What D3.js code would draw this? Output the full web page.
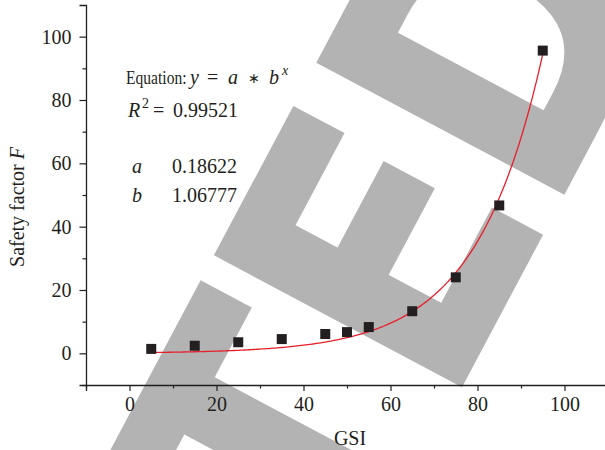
<!DOCTYPE html>
<html>
<head>
<meta charset="utf-8">
<script src="https://cdn.jsdelivr.net/npm/d3@7/dist/d3.min.js"></script>
<style>
  html, body { margin: 0; padding: 0; background: #ffffff; }
  svg { display: block; }
</style>
</head>
<body>
<div id="chart"></div>
<script>
// ---- data ----
const gsi = [5, 15, 25, 35, 45, 50, 55, 65, 75, 85, 95];
const safetyFactor = [1.4, 2.4, 3.5, 4.5, 6.1, 6.7, 8.3, 13.3, 24.0, 46.7, 95.6];
const fitParams = [0.18622, 1.06777];       // a, b of y = a * b^x
const fitRange = [5, 95];
const xTicks = [0, 20, 40, 60, 80, 100];
const yTicks = [0, 20, 40, 60, 80, 100];
const xMinorTicks = [-10, 10, 30, 50, 70, 90, 110];
const yMinorTicks = [-10, 10, 30, 50, 70, 90];
const xDomain = [-10, 110];
const yDomain = [-10, 110];
const annotationLines = ["0.99521", "0.18622", "1.06777"];

const W = 605, H = 450;
const m = { left: 86, right: -3, top: 5, bottom: 65 };

const svg = d3.select("#chart").append("svg").attr("width", W).attr("height", H);
svg.append("rect").attr("width", W).attr("height", H).attr("fill", "#fff");

// ---- watermark ----
const wm = svg.append("g").attr("transform", "translate(462,383) rotate(-62)");
const wmInner = wm.append("g").attr("transform", "scale(0.86,1)");
const wt = wmInner.append("text").text("RETRACTED")
  .attr("font-family", "DejaVu Sans").attr("font-weight", "bold").attr("font-size", 380)
  .attr("fill", "#b3b3b3").attr("stroke", "#b3b3b3").attr("stroke-width", 4)
  .attr("stroke-linejoin", "miter")
  .attr("dx", "0 0 0 0 0 0 0 0 -6");
const ePen = wt.node().getStartPositionOfChar(7).x;
wt.attr("x", -(ePen + 0.098 * 380));

const x = d3.scaleLinear().domain(xDomain).range([m.left, W - m.right]);
const y = d3.scaleLinear().domain(yDomain).range([H - m.bottom, m.top]);

const axisColor = "#231f20";
const serif = "'Liberation Serif', 'Times New Roman', serif";
const fs = 20;

// x axis
const xAxisG = svg.append("g").attr("transform", `translate(0,${y(yDomain[0])})`);
xAxisG.call(d3.axisBottom(x).tickValues(xTicks).tickSize(6).tickPadding(6).tickFormat(d3.format("d")));
xAxisG.append("g").call(d3.axisBottom(x).tickValues(xMinorTicks).tickSize(3.5).tickFormat(""))
  .select(".domain").remove();
// y axis
const yAxisG = svg.append("g").attr("transform", `translate(${x(xDomain[0])},0)`);
yAxisG.call(d3.axisLeft(y).tickValues(yTicks).tickSize(6.5).tickPadding(8).tickFormat(d3.format("d")));
yAxisG.append("g").call(d3.axisLeft(y).tickValues(yMinorTicks).tickSize(3.5).tickFormat(""))
  .select(".domain").remove();

svg.selectAll(".domain").attr("stroke", axisColor).attr("stroke-width", 1.3);
svg.selectAll(".tick line").attr("stroke", axisColor).attr("stroke-width", 1.2);
svg.selectAll(".tick text").attr("fill", "#231f20").attr("font-family", serif).attr("font-size", fs);

// axis titles
svg.append("text").attr("x", 350).attr("y", 445).attr("text-anchor", "middle")
  .attr("font-family", serif).attr("font-size", fs).attr("fill", "#231f20").text("GSI");
const yt = svg.append("text").attr("transform", "translate(24,207) rotate(-90)")
  .attr("text-anchor", "middle").attr("font-family", serif).attr("font-size", fs).attr("fill", "#231f20");
yt.append("tspan").text("Safety factor ");
yt.append("tspan").attr("font-style", "italic").text("F");

// fit curve
const a = fitParams[0], b = fitParams[1];
const curveX = d3.range(fitRange[0], fitRange[1] + 0.001, 0.5);
const line = d3.line().x(d => x(d)).y(d => y(a * Math.pow(b, d)));
svg.append("path").datum(curveX).attr("d", line)
  .attr("fill", "none").attr("stroke", "#e8202a").attr("stroke-width", 1.3);

// points
const sz = 10;
svg.append("g").selectAll("rect").data(gsi).join("rect")
  .attr("x", (d) => x(d) - sz / 2)
  .attr("y", (d, i) => y(safetyFactor[i]) - sz / 2)
  .attr("width", sz).attr("height", sz)
  .attr("fill", "#231f20");

// annotation
const ann = svg.append("g").attr("font-family", serif).attr("font-size", fs).attr("fill", "#231f20");
ann.append("text").attr("transform", "translate(126,84) scale(0.82,1)").attr("font-size", 19).text("Equation:");
const eq = ann.append("text").attr("y", 84);
eq.append("tspan").attr("x", 190).attr("font-style", "italic").text("y");
eq.append("tspan").attr("x", 207).text("=");
eq.append("tspan").attr("x", 228).attr("font-style", "italic").text("a");
eq.append("tspan").attr("x", 248).attr("font-size", 14).attr("dy", -1).text("∗");
eq.append("tspan").attr("x", 269).attr("dy", 1).attr("font-style", "italic").text("b");
eq.append("tspan").attr("x", 282).attr("font-style", "italic").attr("font-size", 14).attr("dy", -9).text("x");

const r2 = ann.append("text").attr("y", 117);
r2.append("tspan").attr("x", 128).attr("font-style", "italic").text("R");
r2.append("tspan").attr("x", 142).attr("font-size", 14).attr("dy", -9).text("2");
r2.append("tspan").attr("x", 153).attr("dy", 9).text("=");
r2.append("tspan").attr("x", 173).text(annotationLines[0]);

ann.append("text").attr("x", 132).attr("y", 173).attr("font-style", "italic").text("a");
ann.append("text").attr("x", 172).attr("y", 173).text(annotationLines[1]);
ann.append("text").attr("x", 132).attr("y", 202).attr("font-style", "italic").text("b");
ann.append("text").attr("x", 172).attr("y", 202).text(annotationLines[2]);
</script>
</body>
</html>
